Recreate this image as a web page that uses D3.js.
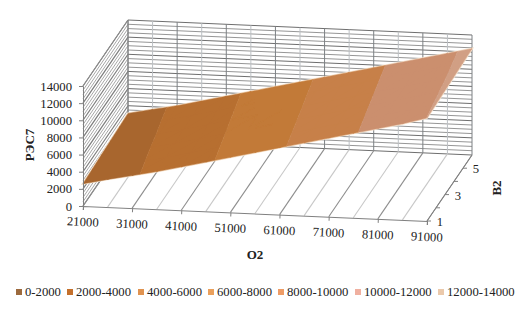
<!DOCTYPE html>
<html>
<head>
<meta charset="utf-8">
<script src="https://cdn.jsdelivr.net/npm/d3@7"></script>
<style>
    body { margin: 0; background: #fff; }
    text { font-family: "Liberation Serif", serif; fill: #222; }
</style>
</head>
<body>
<svg id="chart" width="525" height="312"></svg>
<script>
const o2Values = [21000, 26000, 31000, 36000, 41000, 46000, 51000, 56000, 61000, 66000, 71000, 76000, 81000, 86000, 91000];
const b2Values = [1, 2, 3, 4, 5, 6];
const o2TickLabels = [21000, 31000, 41000, 51000, 61000, 71000, 81000, 91000];
const b2TickLabels = [1, 3, 5];
const valueTicks = [0, 2000, 4000, 6000, 8000, 10000, 12000, 14000];

// one row per B2 value
const rowB1 = [2600, 3230, 3810, 4400, 5070, 5750, 6440, 7120, 7810, 8490, 9180, 9860, 10550, 11230, 12020];
const rowB2 = [2700, 3320, 3900, 4490, 5180, 5860, 6540, 7220, 7910, 8590, 9280, 9960, 10650, 11330, 12100];
const rowB3 = [2800, 3410, 3990, 4600, 5280, 5960, 6640, 7320, 8010, 8690, 9380, 10060, 10750, 11430, 12170];
const rowB4 = [2900, 3500, 4070, 4700, 5390, 6070, 6750, 7430, 8110, 8800, 9480, 10160, 10840, 11520, 12240];
const rowB5 = [3000, 3590, 4160, 4810, 5490, 6170, 6850, 7530, 8220, 8900, 9580, 10260, 10940, 11620, 12320];
const rowB6 = [3100, 3680, 4240, 4920, 5600, 6280, 6960, 7640, 8320, 9000, 9680, 10360, 11040, 11720, 12400];
const surfaceRows = [rowB1, rowB2, rowB3, rowB4, rowB5, rowB6];

const bandLabels = ["0-2000", "2000-4000", "4000-6000", "6000-8000", "8000-10000", "10000-12000", "12000-14000"];
const bandLimits = [0, 2000, 4000, 6000, 8000, 10000, 12000, 14000];
const surfaceColors = ["#96602e", "#a8662e", "#b76f30", "#c27a38", "#c78049", "#cb8f6e", "#d19f84"];
const legendColors = ["#9c6a3e", "#c4702c", "#e09350", "#eaa05c", "#ee9c66", "#f0b0a0", "#ebc9ab"];

const svg = d3.select("#chart");

// Oblique projection of the 3D box
const origin = { x: 83, y: 206 };
const xRun = { x: 344, y: 15 };
const depthRun = { x: 45, y: -66 };

const xScale = d3.scaleLinear().domain([21000, 91000]).range([0, 1]);
const depthScale = d3.scaleLinear().domain([1, 6]).range([0, 1]);
const zScale = d3.scaleLinear().domain([0, 14000]).range([0, 120]);

function project(o, b, z) {
    const tx = xScale(o), td = depthScale(b);
    return [
        origin.x + tx * xRun.x + td * depthRun.x,
        origin.y + tx * xRun.y + td * depthRun.y - zScale(z)
    ];
}

function drawLine(group, a, b, color, width) {
    group.append("line")
        .attr("x1", a[0]).attr("y1", a[1])
        .attr("x2", b[0]).attr("y2", b[1])
        .attr("stroke", color)
        .attr("stroke-width", width);
}

// Walls and floor
const grid = svg.append("g");
const minorValues = d3.range(0, 14001, 500);

minorValues.forEach(v => {
    const major = v % 2000 === 0;
    // left wall
    drawLine(grid, project(21000, 1, v), project(21000, 6, v), major ? "#7c7c7c" : "#a6a6a6", major ? 1.2 : 1);
    // back wall
    drawLine(grid, project(21000, 6, v), project(91000, 6, v), major ? "#6e6e6e" : "#969696", 1);
});

o2Values.forEach((o, i) => {
    const major = i % 2 === 0;
    drawLine(grid, project(o, 6, 0), project(o, 6, 14000), major ? "#7c8084" : "#bcc0c4", 1);
    drawLine(grid, project(o, 1, 0), project(o, 6, 0), major ? "#8e8e8e" : "#c8c8c8", 1.1);
});

drawLine(grid, project(21000, 6, 0), project(21000, 6, 14000), "#808080", 1);
drawLine(grid, project(21000, 1, 14000), project(21000, 6, 14000), "#8c8c8c", 1);

// Clip a triangle to a value band
function clipBand(tri, limit, keepAbove) {
    const out = [];
    tri.forEach((p, i) => {
        const q = tri[(i + 1) % tri.length];
        const pIn = keepAbove ? p.z >= limit : p.z <= limit;
        const qIn = keepAbove ? q.z >= limit : q.z <= limit;
        if (pIn) out.push(p);
        if (pIn !== qIn) {
            const t = (limit - p.z) / (q.z - p.z);
            out.push({ o: p.o + t * (q.o - p.o), b: p.b + t * (q.b - p.b), z: limit });
        }
    });
    return out;
}

const cells = [];
for (let j = b2Values.length - 2; j >= 0; j--) {
    for (let i = 0; i < o2Values.length - 1; i++) {
        const corner = (ii, jj) => ({ o: o2Values[ii], b: b2Values[jj], z: surfaceRows[jj][ii] });
        cells.push([corner(i, j), corner(i + 1, j), corner(i + 1, j + 1)]);
        cells.push([corner(i, j), corner(i + 1, j + 1), corner(i, j + 1)]);
    }
}

// pale rim round the surface
const lastB = b2Values.length - 1, lastO = o2Values.length - 1;
const rim = [
    ...o2Values.map((o, i) => project(o, b2Values[0], surfaceRows[0][i])),
    ...b2Values.map((b, j) => project(o2Values[lastO], b, surfaceRows[j][lastO])),
    ...o2Values.map((o, i) => project(o, b2Values[lastB], surfaceRows[lastB][i])).reverse(),
    ...b2Values.map((b, j) => project(o2Values[0], b, surfaceRows[j][0])).reverse()
];
svg.append("path")
    .attr("d", d3.line()(rim) + "Z")
    .attr("fill", "none")
    .attr("stroke", "#f6e2cc")
    .attr("stroke-width", 2);

// Surface, one path per band
const surface = svg.append("g");
bandLabels.forEach((label, k) => {
    const path = d3.path();
    cells.forEach(tri => {
        let poly = clipBand(tri, bandLimits[k], true);
        if (poly.length) poly = clipBand(poly, bandLimits[k + 1], false);
        if (poly.length < 3) return;
        poly.forEach((p, n) => {
            const xy = project(p.o, p.b, p.z);
            if (n === 0) path.moveTo(xy[0], xy[1]);
            else path.lineTo(xy[0], xy[1]);
        });
        path.closePath();
    });
    surface.append("path")
        .attr("d", path.toString())
        .attr("fill", surfaceColors[k])
        .attr("stroke", surfaceColors[k])
        .attr("stroke-width", 0.5);
});

// Value axis
const valueAxisScale = d3.scaleLinear().domain([0, 14000]).range([120, 0]);
const valueAxis = svg.append("g")
    .attr("transform", `translate(${origin.x},${origin.y - 120})`)
    .call(d3.axisLeft(valueAxisScale).tickValues(valueTicks).tickSize(4).tickPadding(7).tickFormat(d => d));

// O2 axis, tilted with the front edge of the box
const xLength = Math.hypot(xRun.x, xRun.y);
const xAngle = Math.atan2(xRun.y, xRun.x) * 180 / Math.PI;
const o2AxisScale = d3.scaleLinear().domain([21000, 91000]).range([0, xLength]);
const o2Axis = svg.append("g")
    .attr("transform", `translate(${origin.x},${origin.y}) rotate(${xAngle})`)
    .call(d3.axisBottom(o2AxisScale).tickValues(o2TickLabels).tickSize(4).tickPadding(7).tickFormat(d => d));

[valueAxis, o2Axis].forEach(axis => {
    axis.selectAll("path, line").attr("stroke", "#808080");
    axis.selectAll("text").style("font-family", "Liberation Serif").style("font-size", "12.7px").attr("fill", "#222");
});

// B2 axis runs along the depth of the floor
const b2Axis = svg.append("g");
drawLine(b2Axis, project(91000, 1, 0), project(91000, 6, 0), "#808080", 1);
b2Values.slice(0, 5).forEach(b => {
    const p = project(91000, b, 0);
    drawLine(b2Axis, p, [p[0] + 4, p[1]], "#808080", 1);
});
b2Axis.selectAll("text")
    .data(b2TickLabels)
    .enter()
    .append("text")
    .attr("x", d => project(91000, d, 0)[0] + 13)
    .attr("y", d => project(91000, d, 0)[1] + 5)
    .attr("text-anchor", "middle")
    .style("font-size", "12.7px")
    .text(d => d);

// Axis titles
svg.append("text")
    .attr("x", 255)
    .attr("y", 259)
    .attr("text-anchor", "middle")
    .style("font-size", "13px")
    .style("font-weight", "bold")
    .text("O2");

svg.append("text")
    .attr("transform", "translate(501,188) rotate(-90)")
    .attr("text-anchor", "middle")
    .style("font-size", "13px")
    .style("font-weight", "bold")
    .text("B2");

svg.append("text")
    .attr("transform", "translate(34,145) rotate(-90)")
    .attr("text-anchor", "middle")
    .style("font-size", "13px")
    .style("font-weight", "bold")
    .text("РЭС7");

// Legend
const legendX = [16, 67, 138, 208, 278, 355, 438];
const legend = svg.append("g")
    .selectAll("g")
    .data(bandLabels)
    .enter()
    .append("g")
    .attr("transform", (d, i) => `translate(${legendX[i]},292)`);

legend.append("rect")
    .attr("x", 0)
    .attr("y", -3)
    .attr("width", 6)
    .attr("height", 6)
    .attr("fill", (d, i) => legendColors[i]);

legend.append("text")
    .attr("x", 9)
    .attr("y", 4)
    .style("font-size", "12.7px")
    .text(d => d);
</script>
</body>
</html>
